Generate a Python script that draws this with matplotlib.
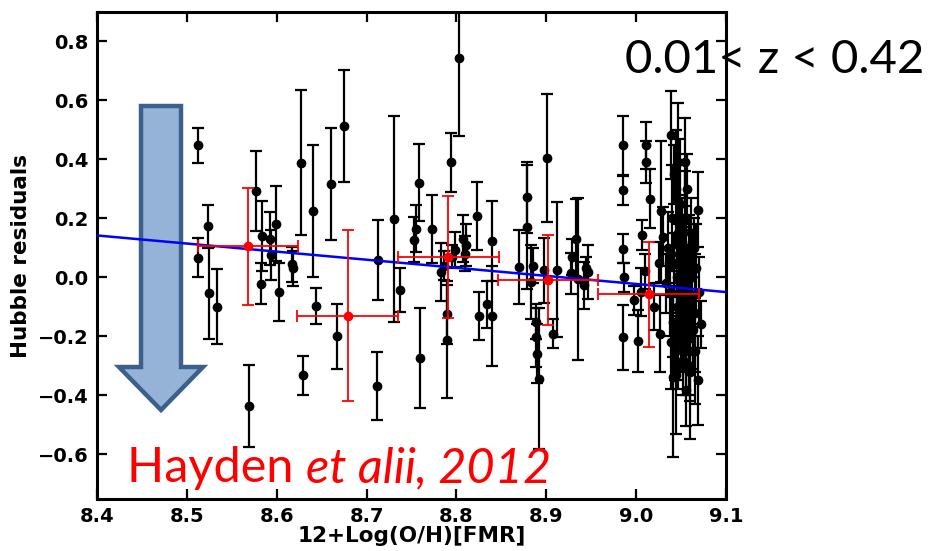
import matplotlib
matplotlib.use("Agg")
import matplotlib.pyplot as plt
from matplotlib.patches import Polygon
import numpy as np

# --- individual supernova host residuals (x = metallicity, y = residual, e = 1-sigma) ---
sn_x = [8.512, 8.512, 8.524, 8.525, 8.533, 8.569, 8.577, 8.582, 8.584, 8.592,
        8.594, 8.599, 8.602, 8.617, 8.618, 8.627, 8.629, 8.640, 8.644, 8.660,
        8.667, 8.675, 8.713, 8.712, 8.731, 8.737, 8.753, 8.755, 8.758, 8.759,
        8.773, 8.783, 8.789, 8.790, 8.794, 8.798, 8.803, 8.807, 8.811, 8.786,
        8.795, 8.810, 8.823, 8.825, 8.834, 8.840, 8.840, 8.870, 8.879, 8.879,
        8.883, 8.885, 8.888, 8.890, 8.892, 8.888, 8.898, 8.901, 8.907, 8.912,
        8.927, 8.933, 8.935, 8.929, 8.942, 8.946, 8.944, 8.985, 8.985, 8.985,
        8.985, 8.986, 8.998, 9.002, 9.007, 9.011, 9.011, 9.015, 9.010, 9.026,
        9.028, 9.030, 9.039, 9.047, 9.054, 9.069, 9.041, 9.056, 9.069, 9.060,
        9.005, 9.020, 9.025, 9.033,
        9.036, 9.038, 9.040, 9.041, 9.042, 9.043, 9.044, 9.045, 9.045, 9.046,
        9.047, 9.047, 9.048, 9.048, 9.049, 9.049, 9.050, 9.050, 9.051, 9.051,
        9.052, 9.052, 9.053, 9.053, 9.054, 9.054, 9.055, 9.055, 9.056, 9.056,
        9.057, 9.057, 9.058, 9.059, 9.059, 9.060, 9.061, 9.061, 9.062, 9.063,
        9.064, 9.065, 9.066, 9.067, 9.070, 9.072, 9.042, 9.039, 9.044]
sn_y = [0.448, 0.067, 0.174, -0.053, -0.100, -0.437, 0.293, -0.021, 0.140, 0.131,
        0.075, 0.182, -0.050, 0.044, 0.030, 0.389, -0.333, 0.224, -0.097, 0.316,
        -0.200, 0.512, 0.058, -0.369, 0.197, -0.044, 0.128, 0.165, 0.321, -0.273,
        0.163, 0.018, -0.126, -0.211, 0.391, 0.094, 0.745, 0.131, 0.110, 0.040,
        0.070, 0.080, 0.207, -0.132, -0.092, -0.132, 0.122, 0.035, 0.272, 0.171,
        -0.016, 0.040, -0.203, -0.259, -0.344, -0.150, 0.024, 0.405, -0.191, 0.026,
        0.013, 0.131, -0.005, 0.069, -0.027, 0.018, 0.030, 0.448, 0.295, 0.097,
        -0.203, 0.000, -0.078, -0.216, 0.143, 0.448, 0.391, 0.267, 0.020, -0.191,
        0.224, 0.137, 0.482, 0.390, 0.391, 0.230, -0.338, -0.383, -0.350, -0.300,
        -0.050, -0.100, 0.050, -0.020,
        0.10, -0.05, 0.20, -0.15, 0.05, -0.25, 0.30, -0.10, 0.00, -0.20,
        0.15, -0.30, -0.05, 0.08, -0.12, 0.25, -0.22, 0.02, -0.08, 0.12,
        -0.28, -0.15, 0.05, -0.02, -0.18, 0.20, -0.10, 0.10, -0.25, 0.00,
        -0.05, 0.30, -0.14, 0.06, -0.20, -0.32, 0.15, -0.08, 0.00, -0.18,
        0.10, -0.12, -0.25, 0.03, -0.05, -0.16, 0.35, -0.22, -0.33]
sn_e = [0.060, 0.065, 0.073, 0.156, 0.127, 0.140, 0.135, 0.070, 0.120, 0.090,
        0.085, 0.127, 0.097, 0.060, 0.060, 0.245, 0.065, 0.224, 0.060, 0.190,
        0.110, 0.190, 0.135, 0.115, 0.350, 0.074, 0.077, 0.080, 0.130, 0.170,
        0.115, 0.100, 0.100, 0.200, 0.100, 0.060, 0.265, 0.080, 0.070, 0.050,
        0.040, 0.060, 0.116, 0.082, 0.080, 0.170, 0.136, 0.125, 0.120, 0.210,
        0.125, 0.060, 0.100, 0.100, 0.240, 0.060, 0.110, 0.218, 0.050, 0.230,
        0.070, 0.136, 0.275, 0.060, 0.080, 0.090, 0.040, 0.100, 0.050, 0.050,
        0.110, 0.050, 0.050, 0.105, 0.050, 0.080, 0.070, 0.100, 0.060, 0.130,
        0.240, 0.100, 0.150, 0.200, 0.150, 0.127, 0.270, 0.120, 0.150, 0.250,
        0.080, 0.080, 0.070, 0.100,
        0.12, 0.15, 0.18, 0.12, 0.10, 0.10, 0.20, 0.14, 0.12, 0.15,
        0.13, 0.08, 0.16, 0.10, 0.12, 0.22, 0.10, 0.14, 0.18, 0.15,
        0.12, 0.10, 0.12, 0.20, 0.14, 0.16, 0.12, 0.10, 0.15, 0.09,
        0.13, 0.12, 0.10, 0.15, 0.20, 0.10, 0.12, 0.11, 0.16, 0.13,
        0.10, 0.20, 0.18, 0.15, 0.12, 0.08, 0.10, 0.16, 0.20]

# --- binned means ---
bin_x = [8.568, 8.679, 8.791, 8.902, 9.014]
bin_y = [0.105, -0.130, 0.069, -0.010, -0.058]
bin_xerr = [0.056, 0.056, 0.056, 0.056, 0.056]
bin_yerr = [0.198, 0.290, 0.208, 0.152, 0.177]

# --- linear fit ---
fit_x = [8.4, 9.1]
fit_y = [0.142, -0.050]

x_ticks = [8.4, 8.5, 8.6, 8.7, 8.8, 8.9, 9.0, 9.1]
y_ticks = [-0.6, -0.4, -0.2, 0.0, 0.2, 0.4, 0.6, 0.8]

W, H = 935, 551
fig = plt.figure(figsize=(W / 100, H / 100), dpi=100)
ax = fig.add_axes([97 / W, 1 - 499 / H, (726 - 97) / W, (499 - 12) / H])

ax.errorbar(sn_x, sn_y, yerr=sn_e, fmt='o', color='black', ms=6,
            elinewidth=1.6, capsize=4.5, capthick=1.6, zorder=2)
ax.plot(fit_x, fit_y, color='blue', lw=1.8, zorder=3)
ax.errorbar(bin_x, bin_y, xerr=bin_xerr, yerr=bin_yerr, fmt='o', color='red',
            ms=6, elinewidth=1.3, capsize=4, capthick=1.3, zorder=4)

ax.set_xlim(8.4, 9.1)
ax.set_ylim(-0.752, 0.9)
ax.set_xticks(x_ticks)
ax.set_yticks(y_ticks)
ax.set_xticklabels([f"{v:.1f}" for v in x_ticks])
ax.set_yticklabels([f"{v:.1f}".replace('-', '\u2212') for v in y_ticks])
ax.tick_params(direction='in', length=7, width=1.6, top=True, right=True,
               labelsize=14, pad=6)
for lab in ax.get_xticklabels() + ax.get_yticklabels():
    lab.set_fontweight('bold')
for sp in ax.spines.values():
    sp.set_linewidth(2.2)

ax.set_xlabel("12+Log(O/H)[FMR]", fontsize=15.5, fontweight='bold', labelpad=0)
ax.set_ylabel("Hubble residuals", fontsize=15.5, fontweight='bold', labelpad=5)

# big downward arrow (figure pixel coordinates, y measured from the top)
arrow_px = [(141, 106), (181, 106), (181, 367), (203, 367), (161, 410),
            (119, 367), (141, 367)]
arrow_fig = [(x / W, 1 - y / H) for x, y in arrow_px]
ax.add_patch(Polygon(arrow_fig, closed=True, transform=fig.transFigure,
                     facecolor='#95b3d7', edgecolor='#3d5f8c', lw=3.2,
                     joinstyle='miter', clip_on=False, zorder=1.5))

# annotations
fig.text(625 / W, 1 - 73 / H, "0.01< z < 0.42", fontsize=34, family='Lato',
         color='black', ha='left', va='baseline')
t1 = fig.text(127 / W, 1 - 482 / H, "Hayden ", fontsize=35, family='Lato',
              color='red', ha='left', va='baseline')
fig.canvas.draw()
bb = t1.get_window_extent()
fig.text(bb.x1 / W, 1 - 482 / H, "et alii, 2012", fontsize=35, family='Lato',
         style='italic', color='red', ha='left', va='baseline')

fig.savefig("out.png", dpi=100)
